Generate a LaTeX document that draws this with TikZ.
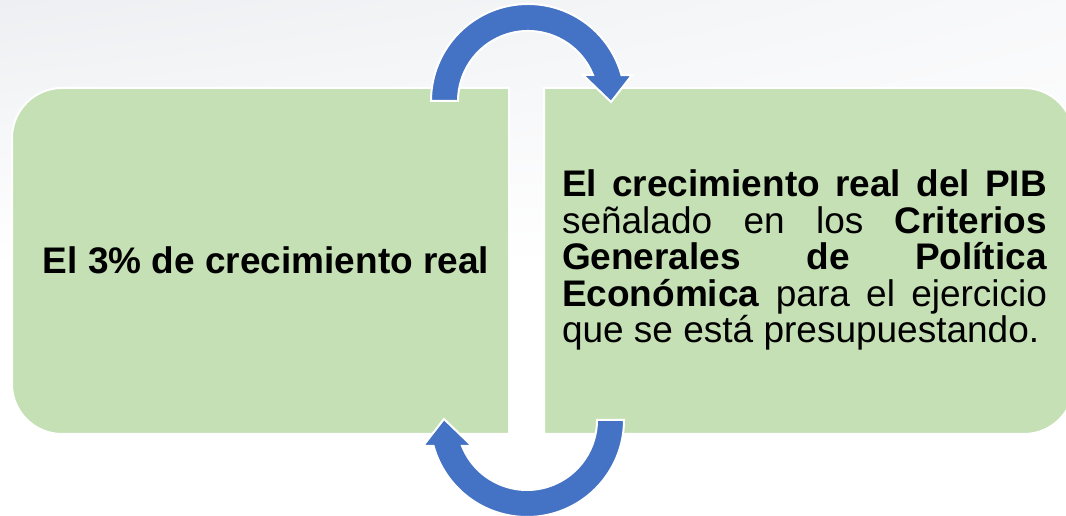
\documentclass[tikz,border=0pt]{standalone}
\usepackage{fontspec}
\setmainfont{Liberation Sans}
\usepackage{xcolor}
\usepackage{tikz}
\usetikzlibrary{
    positioning,
    calc,
    shadings
}
\definecolor{boxGreen}{HTML}{C5E0B4}
\definecolor{arrowBlue}{HTML}{4472C4}
\definecolor{slideGray}{HTML}{EDEFF2}

\tikzset{
    greenbox/.style={fill=boxGreen, draw=white, line width=1.5},
    boxtext/.style={inner sep=0pt, font=\fontsize{27.75}{27.4}\selectfont},
    bluearrow/.style={fill=arrowBlue, draw=white, line width=1.5},
    turnarrow/.pic={
        \path[bluearrow] (180:97) arc[start angle=180, end angle=15.5, radius=97]
            -- (104,26) -- (83,-1) -- (55,26)
            -- (21.8:70) arc[start angle=21.8, end angle=180, radius=70] -- cycle;
    }
}

\begin{document}
\begin{tikzpicture}[x=0.75pt, y=0.75pt]
        \useasboundingbox (0,0) rectangle (1066,516);
        \clip (0,0) rectangle (1066,516);

        % Slide background
        \fill[white] (0,0) rectangle (1066,516);
        \shade[upper left=slideGray, upper right=white!60!slideGray,
               lower left=white, lower right=white] (0,250) rectangle (1066,516);

        % Boxes
        \path[greenbox] (509,82) -- (62,82) arc[start angle=270, end angle=180, radius=50]
            -- (12,378) arc[start angle=180, end angle=90, radius=50] -- (509,428) -- cycle;
        \path[greenbox] (544,82) -- (1024,82) arc[start angle=-90, end angle=0, radius=50]
            -- (1074,378) arc[start angle=0, end angle=90, radius=50] -- (544,428) -- cycle;

        % Texts
        \node[boxtext, font=\fontsize{27.75}{27.4}\selectfont\bfseries] (tasa) at (266,256)
            {El 3\% de crecimiento real};
        \node[boxtext, text width=363.75pt, align=justify] (criterio) at (804.5,256)
            {\textbf{El crecimiento real del PIB}\linebreak
             señalado en los \textbf{Criterios}\linebreak
             \textbf{Generales de Política}\linebreak
             \textbf{Económica} para el ejercicio\linebreak
             que se está presupuestando.};

        % Arrows
        \coordinate (topturn) at (528,415);
        \coordinate (bottomturn) at (527,96);
        \pic at (topturn) {turnarrow};
        \pic[rotate=180] at (bottomturn) {turnarrow};
    \end{tikzpicture}
\end{document}
